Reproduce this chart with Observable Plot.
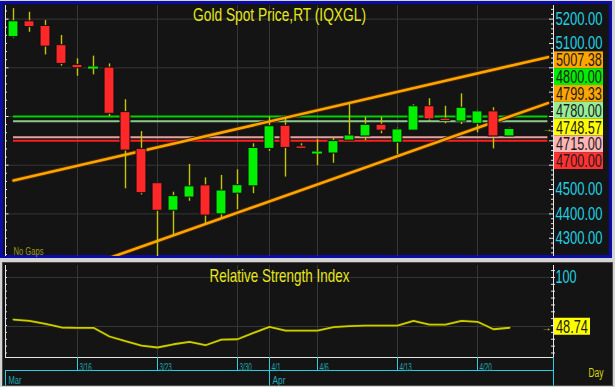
<!DOCTYPE html>
<html><head><meta charset="utf-8">
<script src="https://cdn.jsdelivr.net/npm/d3@7"></script>
<script src="https://cdn.jsdelivr.net/npm/@observablehq/plot@0.6"></script>
<style>
html,body{margin:0;padding:0;background:#d4d4d4;}
#wrap{position:relative;width:615px;height:387px;overflow:hidden;background:#d4d4d4;}
#toppanel{position:absolute;left:0;top:1px;width:612px;height:257px;box-sizing:border-box;border:3px solid #0b0ba8;background:#141414;}
#botpanel{position:absolute;left:2px;top:262px;width:611px;height:124px;box-sizing:border-box;border:1px solid #4a4a4a;background:#141414;}
.layer{position:absolute;left:0;width:615px;}
.layer svg{display:block;overflow:visible;}
</style></head><body>
<div id="wrap">
  <div id="toppanel"></div><div id="botpanel"></div>
  <div id="p1" class="layer" style="top:0px"></div>
  <div id="p2" class="layer" style="top:262px"></div>
  <div id="p3" class="layer" style="top:357px"></div>
</div>
<script>
// ---------------- data ----------------
const dates = ["3/10","3/11","3/12","3/13","3/16","3/17","3/18","3/19","3/20","3/23","3/24","3/25","3/26","3/27","3/30","3/31","4/1","4/2","4/3","4/6","4/7","4/8","4/9","4/10","4/13","4/14","4/15","4/16","4/17","4/20","4/21","4/22"];
const open  = [5126,5191,5172,5093,5012,4999,5001,4818,4667,4526,4413,4467,4517,4398,4483,4513,4667,4762,4677,4651,4648,4701,4718,4766,4692,4742,4842,4791,4779,4770,4821,4718];
const high  = [5243,5228,5194,5133,5037,5048,5016,4869,4738,4528,4489,4603,4548,4558,4581,4688,4797,4797,4688,4706,4713,4855,4797,4797,4752,4848,4873,4842,4893,4825,4836,4752];
const low   = [5122,5146,5053,5007,4965,4971,4800,4503,4478,4150,4307,4452,4359,4380,4417,4483,4657,4551,4666,4598,4608,4701,4701,4729,4643,4742,4779,4770,4767,4733,4667,4716];
const close = [5191,5167,5087,5016,4998,5001,4811,4660,4485,4413,4473,4513,4393,4496,4518,4671,4760,4671,4667,4652,4699,4722,4766,4742,4747,4842,4788,4781,4836,4821,4718,4748.57];
const rsi   = [57.1,55.8,52.7,49,48.7,48.7,39.8,35,30.6,28.6,31.9,34.4,30.9,36.7,37,43.5,49.7,45.9,45.9,45.9,49.3,50.3,51,51,51,55.8,52,52,55.8,54.8,47.2,48.74];

const levels = [4800, 4780, 4715, 4700];
const upperTrend = {dates: ["3/10", "4/22"], values: [4537, 5007.38]};
const lowerTrend = {dates: ["3/24", "4/22"], values: [4312, 4799.33]};

const dayTicks = ["3/16","3/23","3/30","4/1","4/6","4/13","4/20"];
const months = ["Mar", "Apr"];
const monthStarts = [null, "4/1"];
const priceTicks = [4300,4400,4500,4600,4700,4800,4900,5000,5100,5200];
const priceGrid = [5200,5000,4800,4600,4400];
const rsiTicks = [100];
const rsiGrid = [100, 50];

const title = "Gold Spot Price,RT (IQXGL)";
const rsiTitle = "Relative Strength Index";

// ---------------- styles ----------------
const FONT = "'Liberation Sans', Arial, sans-serif";
const cyan = "#22d0e2", teal = "#1fa9b6", gridC = "#363636", white = "#e6e6e6";
const yellowTxt = "#e6e61c", wickC = "#c4c400", orange = "#ffa500";
const upC = "#00f000", downC = "#ff2828";
const levelStroke = ["#00d200", "#8acb8a", "#e4a2a2", "#ff1e1e"];
const levelBox = ["#00ee00", "#96ee96", "#ffb6b6", "#ff3232"];

// ---------------- geometry ----------------
const xDomain = [-0.5, 33.75];
const xMax = xDomain[1], xMin = xDomain[0];
const trendEnd = 33.4;
const px = n => n / 16;   // pixels -> bar units (16 px per bar)

const candles = dates.map((d, i) => ({i, o: open[i], h: high[i], l: low[i], c: close[i]}));
const dojis = candles.filter(d => Math.abs(d.c - d.o) < 3);
const gridIdx = dayTicks.map(d => dates.indexOf(d));
const lastI = dates.length - 1;

function trendPts(t, start) {
  const i0 = dates.indexOf(t.dates[0]), i1 = dates.indexOf(t.dates[1]);
  const s = (t.values[1] - t.values[0]) / (i1 - i0);
  const at = i => t.values[0] + s * (i - i0);
  return [{i: start, p: at(start)}, {i: trendEnd, p: at(trendEnd)}];
}
const upPts = trendPts(upperTrend, 0);
const loPts = trendPts(lowerTrend, 5);
const levelData = levels.map((v, k) => ({v, color: levelStroke[k]}));

const lastClose = close[lastI];
const boxItems = [
  {v: upperTrend.values[1], bg: orange},
  {v: levels[0], bg: levelBox[0]},
  {v: lowerTrend.values[1], bg: orange},
  {v: levels[1], bg: levelBox[1]},
  {v: lastClose, bg: "#ffff00", anchor: true},
  {v: levels[2], bg: levelBox[2]},
  {v: levels[3], bg: levelBox[3]}
];

const leftTicks = d3.range(0, 31).map(k => 5200 + 33.3333 - k * 33.3333);
const rightTicks = d3.range(4240, 5260, 20);

const common = {
  width: 615, marginLeft: 5, marginRight: 62,
  x: {domain: xDomain, axis: null},
  color: {type: "identity"},
  style: {background: "transparent", fontFamily: FONT, overflow: "visible"}
};

// ---------------- top price panel ----------------
const priceSvg = Plot.plot({
  ...common,
  height: 258, marginTop: 5, marginBottom: 2,
  y: {domain: [4225, 5255.9], axis: null},
  marks: [
    Plot.ruleY(priceGrid, {stroke: gridC}),
    Plot.ruleX(gridIdx, {stroke: gridC}),
    Plot.ruleY(levelData, {y: "v", x1: 0, x2: trendEnd, stroke: "color", strokeWidth: 2}),
    Plot.line(upPts, {x: "i", y: "p", stroke: "#4a2800", strokeWidth: 4.5, clip: true}),
    Plot.line(upPts, {x: "i", y: "p", stroke: orange, strokeWidth: 2.6, clip: true}),
    Plot.line(loPts, {x: "i", y: "p", stroke: "#4a2800", strokeWidth: 4.5, clip: true}),
    Plot.line(loPts, {x: "i", y: "p", stroke: orange, strokeWidth: 2.6, clip: true}),
    Plot.ruleX(candles, {x: "i", y1: "l", y2: "h", stroke: wickC, strokeWidth: 1.4, clip: true}),
    Plot.rect(candles, {x1: d => d.i - 0.31, x2: d => d.i + 0.31, y1: "o", y2: "c",
      fill: d => d.c >= d.o ? upC : downC, stroke: "#101010", strokeWidth: 1}),
    Plot.ruleY(dojis, {y: "c", x1: d => d.i - 0.31, x2: d => d.i + 0.31, stroke: upC, strokeWidth: 2}),
    // axes decorations
    Plot.ruleX([xMin], {stroke: white}),
    Plot.ruleY(leftTicks, {x1: xMin, x2: (d, k) => xMin + px(k % 6 === 1 ? 3.5 : 2), stroke: white}),
    Plot.ruleX([xMax], {stroke: white}),
    Plot.ruleY(rightTicks, {x1: d => xMax - px(d % 100 === 0 ? 4 : 2), x2: xMax, stroke: white}),
    Plot.text(priceTicks, {x: xMax, y: d => d, text: d => d.toFixed(2), dx: 2, textAnchor: "start",
      lineAnchor: "middle", fill: cyan, fontSize: 19}),
    Plot.text([lastClose], {x: xMax, y: d => d, text: () => "→", dx: -6, fill: yellowTxt, fontSize: 10}),
    Plot.text([title], {frameAnchor: "top", dy: 9.5, lineAnchor: "middle", fill: yellowTxt, fontSize: 19}),
    Plot.text(["No Gaps"], {frameAnchor: "bottom-left", dx: 8, dy: -2, lineAnchor: "bottom",
      textAnchor: "start", fill: "#9c9c10", fontSize: 11})
  ]
});
document.getElementById("p1").appendChild(priceSvg);

// label boxes stacked around the last-price label
(function () {
  const sy = priceSvg.scale("y"), sx = priceSvg.scale("x");
  const h = 16.8;
  const items = boxItems.map(d => ({...d, nat: sy.apply(d.v), label: d.v.toFixed(2)}));
  const a = items.find(d => d.anchor);
  a.pos = a.nat - 1.5;
  let cur = a.pos;
  items.filter(d => d.v > a.v).sort((p, q) => p.v - q.v).forEach(d => { d.pos = Math.min(d.nat, cur - h); cur = d.pos; });
  cur = a.pos;
  items.filter(d => d.v < a.v).sort((p, q) => q.v - p.v).forEach(d => { d.pos = Math.max(d.nat, cur + h); cur = d.pos; });
  const topY = d3.min(items, d => d.pos) - h / 2, botY = d3.max(items, d => d.pos) + h / 2;
  // axis labels hidden behind the stack are not drawn
  const hidden = new Set(priceTicks.filter(v => { const y = sy.apply(v); return y > topY - 6 && y < botY + 6; }).map(v => v.toFixed(2)));
  priceSvg.querySelectorAll("text").forEach(t => { if (hidden.has(t.textContent)) t.remove(); });
  const x0 = sx.apply(xMax) + 1;
  const g = d3.select(priceSvg).append("g").attr("text-anchor", "start");
  items.forEach(d => {
    g.append("rect").attr("x", x0).attr("y", d.pos - h / 2).attr("width", 49).attr("height", h).attr("fill", d.bg);
    g.append("text").attr("x", x0 + 2).attr("y", d.pos).attr("dy", "0.36em").attr("fill", "#1c1c1c")
      .attr("text-anchor", "start").attr("font-size", 18.5).attr("font-family", FONT).text(d.label);
  });
})();

// ---------------- RSI panel ----------------
const rsiData = rsi.map((v, i) => ({i, v}));
const rsiDomain = [18.4, 112.2];
const rsiLeftTicks = d3.range(107, 18, -7);
const rsiSvg = Plot.plot({
  ...common,
  height: 96, marginTop: 3, marginBottom: 1,
  y: {domain: rsiDomain, axis: null},
  marks: [
    Plot.ruleY(rsiGrid, {stroke: gridC}),
    Plot.ruleX(gridIdx, {stroke: gridC}),
    Plot.line(rsiData, {x: "i", y: "v", stroke: "#2a2a00", strokeWidth: 3.2}),
    Plot.line(rsiData, {x: "i", y: "v", stroke: "#cccc00", strokeWidth: 1.8}),
    Plot.ruleY([rsiDomain[0]], {x1: xMin, x2: xMax, stroke: white}),
    Plot.ruleX([xMin], {stroke: white}),
    Plot.ruleY(rsiLeftTicks, {x1: xMin, x2: xMin + px(2), stroke: white}),
    Plot.ruleX([xMax], {stroke: white}),
    Plot.ruleY(rsiLeftTicks, {x1: xMax - px(2), x2: xMax + px(2), stroke: white}),
    Plot.text(rsiTicks, {x: xMax, y: d => d, text: d => String(d), dx: 2, textAnchor: "start",
      lineAnchor: "middle", fill: cyan, fontSize: 19}),
    Plot.text([rsi[lastI]], {x: xMax, y: d => d, text: () => "→", dx: -7, fill: yellowTxt, fontSize: 10}),
    Plot.text([rsiTitle], {frameAnchor: "top", dy: 10.3, lineAnchor: "middle", fill: yellowTxt, fontSize: 19})
  ]
});
document.getElementById("p2").appendChild(rsiSvg);
(function () {
  const sy = rsiSvg.scale("y"), sx = rsiSvg.scale("x");
  const v = rsi[lastI], y = sy.apply(v), x0 = sx.apply(xMax) + 1, h = 17;
  const g = d3.select(rsiSvg).append("g").attr("text-anchor", "start");
  g.append("rect").attr("x", x0).attr("y", y - h / 2 - 1).attr("width", 36).attr("height", h).attr("fill", "#ffff00");
  g.append("text").attr("x", x0 + 2).attr("y", y - 1).attr("dy", "0.36em").attr("fill", "#1c1c1c")
    .attr("text-anchor", "start").attr("font-size", 18.5).attr("font-family", FONT).text(v.toFixed(2));
})();

// ---------------- date axis ----------------
const dayData = dayTicks.map(d => ({i: dates.indexOf(d), label: d}));
const monthData = months.map((m, k) => ({i: monthStarts[k] === null ? xMin : dates.indexOf(monthStarts[k]), label: m}));
const axisSvg = Plot.plot({
  ...common,
  height: 29, marginTop: 0, marginBottom: 3,
  y: {domain: [2, 0], axis: null},
  marks: [
    Plot.ruleY([1], {x1: xMin, x2: xMax, stroke: cyan}),
    Plot.ruleX(dayData, {x: "i", y1: 0, y2: 1, stroke: cyan}),
    Plot.ruleX(monthData, {x: "i", y1: d => d.i === xMin ? 1 : 0, y2: 2.2, stroke: cyan}),
    Plot.ruleX([xMax], {y1: 0, y2: 2.2, stroke: cyan}),
    Plot.text(dayData, {x: "i", y: 1, text: "label", dx: 2, textAnchor: "start", lineAnchor: "bottom",
      fill: teal, fontSize: 11}),
    Plot.text(monthData, {x: "i", y: 2, text: "label", dx: 3, textAnchor: "start", lineAnchor: "bottom",
      fill: teal, fontSize: 10}),
    Plot.text(["Day"], {x: xMax, y: 1.2, text: d => d, dx: 35, textAnchor: "start", lineAnchor: "middle",
      fill: "#d8d800", fontSize: 12})
  ]
});
document.getElementById("p3").appendChild(axisSvg);

// ---------------- condensed text (narrow glyphs, tall caps) ----------------
const widths = new Map();
priceTicks.forEach(v => widths.set(v.toFixed(2), 47));
boxItems.forEach(d => widths.set(d.v.toFixed(2), 46));
widths.set(title, 173);
widths.set(rsiTitle, 140);
widths.set("No Gaps", 30);
widths.set("100", 21);
widths.set(rsi[lastI].toFixed(2), 32);
widths.set("Day", 15);
dayTicks.forEach(d => widths.set(d, d.length * 3.1));
widths.set("Mar", 13); widths.set("Apr", 13);
function condense(t, target) {
  const w0 = t.getComputedTextLength();
  if (!w0) return;
  const fs = parseFloat(getComputedStyle(t).fontSize);
  const r = target / w0;
  const x = parseFloat(t.getAttribute("x")) || 0, y = parseFloat(t.getAttribute("y")) || 0;
  t.style.fontSize = (fs * r) + "px";
  const prev = t.getAttribute("transform") || "";
  t.setAttribute("transform", `${prev} translate(${x},${y}) scale(1,${1 / r}) translate(${-x},${-y})`);
}
for (const svg of [priceSvg, rsiSvg, axisSvg]) {
  svg.querySelectorAll("text").forEach(t => {
    const w = widths.get(t.textContent);
    if (w) condense(t, w);
  });
}
</script>
</body></html>
